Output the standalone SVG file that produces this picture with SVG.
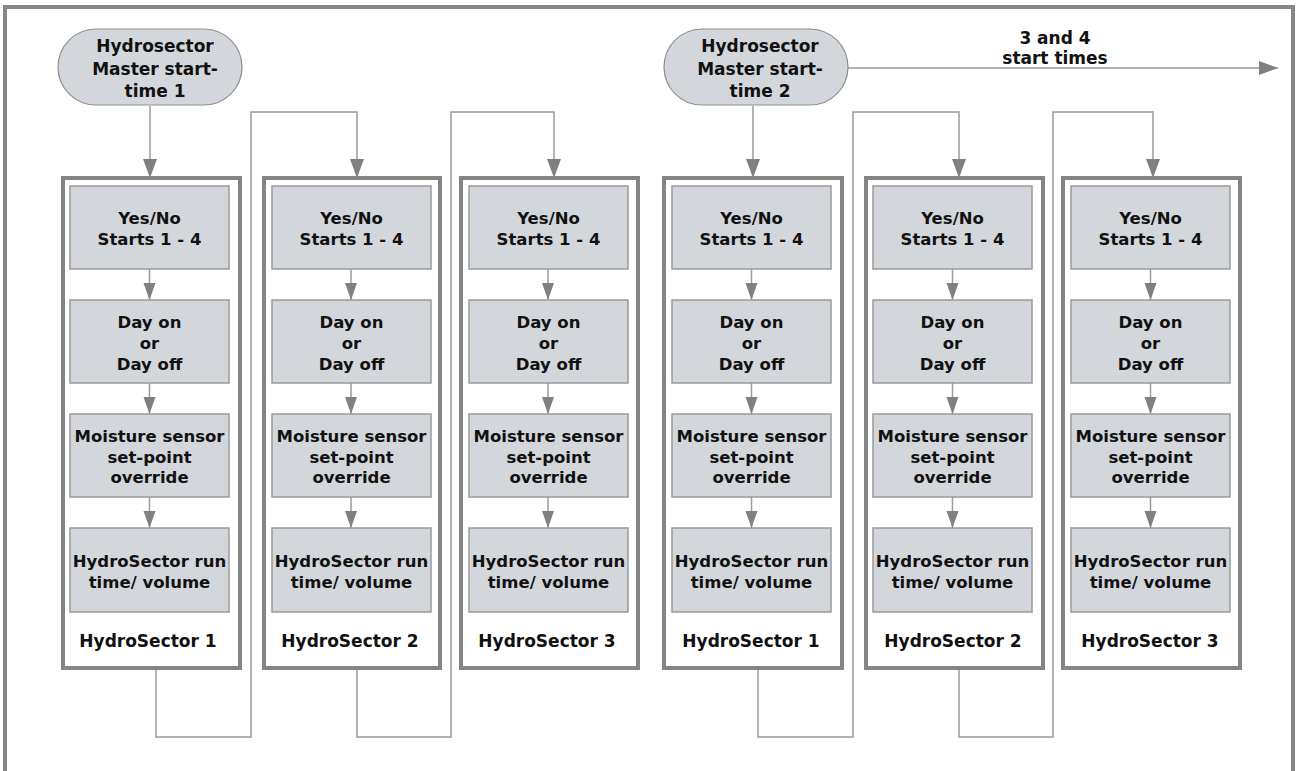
<svg xmlns="http://www.w3.org/2000/svg" width="1296" height="771" viewBox="0 0 1296 771">
<defs>
<style>
.frame{fill:none;stroke:#878787;stroke-width:4}
.cont{fill:#ffffff;stroke:#858585;stroke-width:4}
.box{fill:#d3d7db;stroke:#9a9a9a;stroke-width:1.5}
.pill{fill:#d3d7db;stroke:#8f8f8f;stroke-width:1.2}
.t{font-family:"DejaVu Sans",Verdana,sans-serif;font-weight:bold;font-size:16.5px;fill:#111;text-anchor:middle}
.lbl{font-family:"DejaVu Sans",Verdana,sans-serif;font-weight:bold;font-size:17px;fill:#111;text-anchor:middle}
.pt{font-family:"DejaVu Sans",Verdana,sans-serif;font-weight:bold;font-size:17px;fill:#111;text-anchor:middle}
.ln{fill:none;stroke:#9a9a9a;stroke-width:1.5}
.ar{fill:none;stroke:#9a9a9a;stroke-width:1.5;marker-end:url(#ah)}
.ars{fill:none;stroke:#9a9a9a;stroke-width:1.5;marker-end:url(#ahs)}
</style>
<marker id="ah" markerUnits="userSpaceOnUse" markerWidth="20" markerHeight="16" refX="19" refY="7" orient="auto">
<path d="M0,0 L19,7 L0,14 z" fill="#808080"/>
</marker>
<marker id="ahs" markerUnits="userSpaceOnUse" markerWidth="18" markerHeight="14" refX="17" refY="6" orient="auto">
<path d="M0,0 L17,6 L0,12 z" fill="#808080"/>
</marker>
</defs>

<rect class="frame" x="5" y="7" width="1288" height="800"/>

<g id="connectors">
<path class="ar" d="M150,106 V178"/>
<path class="ar" d="M156,670 V737 H251 V112 H357 V178"/>
<path class="ar" d="M357,670 V737 H451 V112 H554 V178"/>
<path class="ar" d="M753,106 V178"/>
<path class="ar" d="M758,670 V737 H853 V112 H959 V178"/>
<path class="ar" d="M959,670 V737 H1053 V112 H1153 V178"/>
<path class="ar" d="M848,68 H1278"/>
</g>

<g id="start1">
<rect class="pill" x="58" y="29" width="184" height="76" rx="38" ry="38"/>
<text class="pt" x="155" y="52">Hydrosector</text>
<text class="pt" x="155" y="75">Master start-</text>
<text class="pt" x="155" y="97">time 1</text>
</g>

<g id="start2">
<rect class="pill" x="664" y="29" width="184" height="76" rx="38" ry="38"/>
<text class="pt" x="760" y="52">Hydrosector</text>
<text class="pt" x="760" y="75">Master start-</text>
<text class="pt" x="760" y="97">time 2</text>
</g>

<g id="label-3-4">
<text class="pt" x="1055" y="44">3 and 4</text>
<text class="pt" x="1055" y="64">start times</text>
</g>

<g id="sector1a">
<rect class="cont" x="63" y="178" width="177" height="490"/>
<rect class="box" x="70" y="186" width="159" height="83"/>
<rect class="box" x="70" y="300" width="159" height="83"/>
<rect class="box" x="70" y="414" width="159" height="83"/>
<rect class="box" x="70" y="528" width="159" height="84"/>
<path class="ars" d="M149.5,269 V300"/><path class="ars" d="M149.5,383 V414"/><path class="ars" d="M149.5,497 V528"/>
<text class="t" x="149.5" y="224">Yes/No</text><text class="t" x="149.5" y="245">Starts 1 - 4</text>
<text class="t" x="149.5" y="328">Day on</text><text class="t" x="149.5" y="349">or</text><text class="t" x="149.5" y="370">Day off</text>
<text class="t" x="149.5" y="442">Moisture sensor</text><text class="t" x="149.5" y="463">set-point</text><text class="t" x="149.5" y="483">override</text>
<text class="t" x="149.5" y="567">HydroSector run</text><text class="t" x="149.5" y="588">time/ volume</text>
<text class="lbl" x="148" y="647">HydroSector 1</text>
</g>

<g id="sector2a">
<rect class="cont" x="264" y="178" width="176" height="490"/>
<rect class="box" x="272" y="186" width="159" height="83"/>
<rect class="box" x="272" y="300" width="159" height="83"/>
<rect class="box" x="272" y="414" width="159" height="83"/>
<rect class="box" x="272" y="528" width="159" height="84"/>
<path class="ars" d="M351,269 V300"/><path class="ars" d="M351,383 V414"/><path class="ars" d="M351,497 V528"/>
<text class="t" x="351.5" y="224">Yes/No</text><text class="t" x="351.5" y="245">Starts 1 - 4</text>
<text class="t" x="351.5" y="328">Day on</text><text class="t" x="351.5" y="349">or</text><text class="t" x="351.5" y="370">Day off</text>
<text class="t" x="351.5" y="442">Moisture sensor</text><text class="t" x="351.5" y="463">set-point</text><text class="t" x="351.5" y="483">override</text>
<text class="t" x="351.5" y="567">HydroSector run</text><text class="t" x="351.5" y="588">time/ volume</text>
<text class="lbl" x="350" y="647">HydroSector 2</text>
</g>

<g id="sector3a">
<rect class="cont" x="461" y="178" width="177" height="490"/>
<rect class="box" x="469" y="186" width="159" height="83"/>
<rect class="box" x="469" y="300" width="159" height="83"/>
<rect class="box" x="469" y="414" width="159" height="83"/>
<rect class="box" x="469" y="528" width="159" height="84"/>
<path class="ars" d="M548,269 V300"/><path class="ars" d="M548,383 V414"/><path class="ars" d="M548,497 V528"/>
<text class="t" x="548.5" y="224">Yes/No</text><text class="t" x="548.5" y="245">Starts 1 - 4</text>
<text class="t" x="548.5" y="328">Day on</text><text class="t" x="548.5" y="349">or</text><text class="t" x="548.5" y="370">Day off</text>
<text class="t" x="548.5" y="442">Moisture sensor</text><text class="t" x="548.5" y="463">set-point</text><text class="t" x="548.5" y="483">override</text>
<text class="t" x="548.5" y="567">HydroSector run</text><text class="t" x="548.5" y="588">time/ volume</text>
<text class="lbl" x="547" y="647">HydroSector 3</text>
</g>

<g id="sector1b">
<rect class="cont" x="664" y="178" width="178" height="490"/>
<rect class="box" x="672" y="186" width="159" height="83"/>
<rect class="box" x="672" y="300" width="159" height="83"/>
<rect class="box" x="672" y="414" width="159" height="83"/>
<rect class="box" x="672" y="528" width="159" height="84"/>
<path class="ars" d="M751.5,269 V300"/><path class="ars" d="M751.5,383 V414"/><path class="ars" d="M751.5,497 V528"/>
<text class="t" x="751.5" y="224">Yes/No</text><text class="t" x="751.5" y="245">Starts 1 - 4</text>
<text class="t" x="751.5" y="328">Day on</text><text class="t" x="751.5" y="349">or</text><text class="t" x="751.5" y="370">Day off</text>
<text class="t" x="751.5" y="442">Moisture sensor</text><text class="t" x="751.5" y="463">set-point</text><text class="t" x="751.5" y="483">override</text>
<text class="t" x="751.5" y="567">HydroSector run</text><text class="t" x="751.5" y="588">time/ volume</text>
<text class="lbl" x="751" y="647">HydroSector 1</text>
</g>

<g id="sector2b">
<rect class="cont" x="866" y="178" width="177" height="490"/>
<rect class="box" x="873" y="186" width="159" height="83"/>
<rect class="box" x="873" y="300" width="159" height="83"/>
<rect class="box" x="873" y="414" width="159" height="83"/>
<rect class="box" x="873" y="528" width="159" height="84"/>
<path class="ars" d="M952.5,269 V300"/><path class="ars" d="M952.5,383 V414"/><path class="ars" d="M952.5,497 V528"/>
<text class="t" x="952.5" y="224">Yes/No</text><text class="t" x="952.5" y="245">Starts 1 - 4</text>
<text class="t" x="952.5" y="328">Day on</text><text class="t" x="952.5" y="349">or</text><text class="t" x="952.5" y="370">Day off</text>
<text class="t" x="952.5" y="442">Moisture sensor</text><text class="t" x="952.5" y="463">set-point</text><text class="t" x="952.5" y="483">override</text>
<text class="t" x="952.5" y="567">HydroSector run</text><text class="t" x="952.5" y="588">time/ volume</text>
<text class="lbl" x="953" y="647">HydroSector 2</text>
</g>

<g id="sector3b">
<rect class="cont" x="1063" y="178" width="177" height="490"/>
<rect class="box" x="1071" y="186" width="159" height="83"/>
<rect class="box" x="1071" y="300" width="159" height="83"/>
<rect class="box" x="1071" y="414" width="159" height="83"/>
<rect class="box" x="1071" y="528" width="159" height="84"/>
<path class="ars" d="M1150.5,269 V300"/><path class="ars" d="M1150.5,383 V414"/><path class="ars" d="M1150.5,497 V528"/>
<text class="t" x="1150.5" y="224">Yes/No</text><text class="t" x="1150.5" y="245">Starts 1 - 4</text>
<text class="t" x="1150.5" y="328">Day on</text><text class="t" x="1150.5" y="349">or</text><text class="t" x="1150.5" y="370">Day off</text>
<text class="t" x="1150.5" y="442">Moisture sensor</text><text class="t" x="1150.5" y="463">set-point</text><text class="t" x="1150.5" y="483">override</text>
<text class="t" x="1150.5" y="567">HydroSector run</text><text class="t" x="1150.5" y="588">time/ volume</text>
<text class="lbl" x="1150" y="647">HydroSector 3</text>
</g>
</svg>
